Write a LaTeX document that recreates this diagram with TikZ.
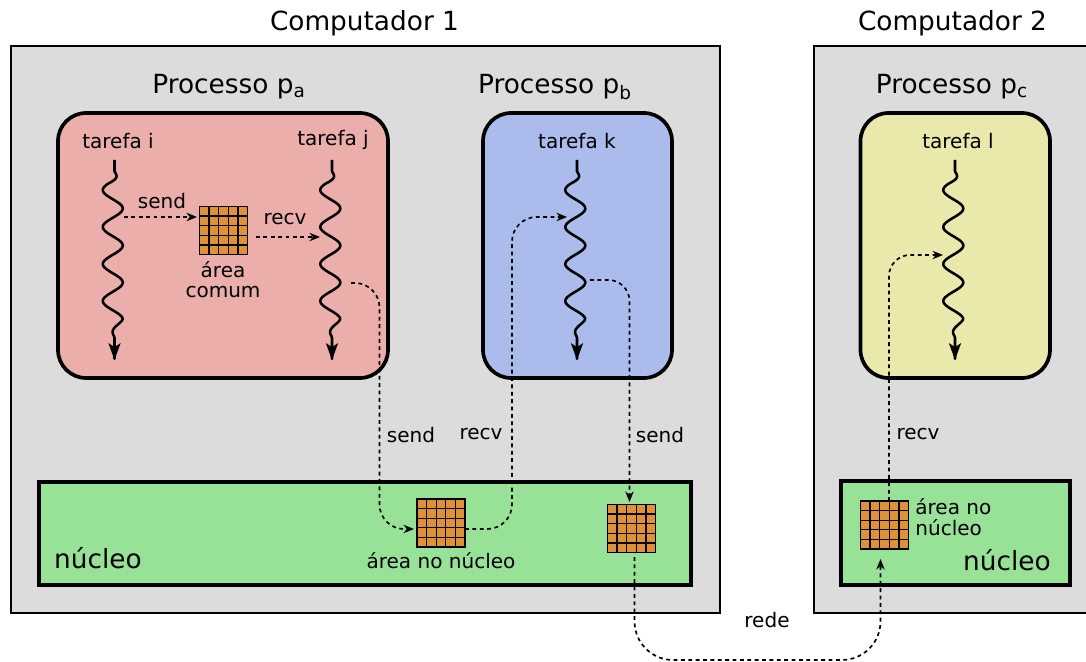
\documentclass[tikz,border=0pt]{standalone}
\usepackage{fontspec}
\setmainfont{DejaVu Sans}
\usetikzlibrary{calc}
\usetikzlibrary{arrows.meta}

\definecolor{compgray}{HTML}{DCDCDC}
\definecolor{procred}{HTML}{EBAEAB}
\definecolor{procblue}{HTML}{ABBBEB}
\definecolor{procyellow}{HTML}{EBE8AB}
\definecolor{kernelgreen}{HTML}{98E298}
\definecolor{gridorange}{HTML}{DE9136}

\tikzset{
  declare function={
    env(\t)=max(0,min(1,(\t-11.5)/12,(177-\t)/18));
    wave(\t)=env(\t)*(-10*sin(9.73*(\t-20.75))-1.7);
  },
  computer/.style={draw,fill=compgray,line width=1.6pt},
  process/.style={draw,line width=2.1pt,rounded corners=16pt},
  kernel/.style={draw,fill=kernelgreen,line width=2.2pt},
  thread/.style={line width=1.45pt,-{Stealth[length=9.5pt,width=6.8pt,inset=2.2pt]},line join=round},
  msg/.style={line width=0.95pt,dash pattern=on 2.2pt off 2pt,-{Stealth[length=6pt,width=4.8pt]}},
  memgrid/.style={draw,fill=gridorange,line width=0.75pt,minimum size=27.3pt,inner sep=0pt,outer sep=0pt},
  title/.style={font=\fontsize{15}{18}\selectfont,inner sep=0pt},
  small/.style={font=\fontsize{11.4}{11.8}\selectfont,inner sep=0pt,align=center},
  smallleft/.style={font=\fontsize{11.4}{11.8}\selectfont,inner sep=0pt,align=left},
}

\newcommand{\memarea}[2]{%
  \node[memgrid] (#1) at (#2) {};
  \foreach \k in {1,...,4} {
    \draw[line width=0.75pt] ($(#1.north west)!\k/5!(#1.north east)$) -- ($(#1.south west)!\k/5!(#1.south east)$);
    \draw[line width=0.75pt] ($(#1.north west)!\k/5!(#1.south west)$) -- ($(#1.north east)!\k/5!(#1.south east)$);
  }
}
\newcommand{\threadline}[1]{%
  \draw[thread,shift={(#1)},domain=0:200,samples=161,variable=\t] plot ({wave(\t)},{\t});
}

\begin{document}
\begin{tikzpicture}[x=0.02cm,y=-0.02cm]
\useasboundingbox (0,0) rectangle (1086,662);

% Computers
\draw[computer] (11,46) rectangle (720,613);
\draw[computer] (814,46) rectangle (1100,613);
\node[title] (comp1) at (364.5,23) {Computador 1};
\node[title] (comp2) at (952.5,23) {Computador 2};

% Processes
\draw[process,fill=procred] (58,113) rectangle (388,378);
\draw[process,fill=procblue] (483,113) rectangle (672,378);
\draw[process,fill=procyellow] (860.5,113) rectangle (1050,378);
\node[title] (proca) at (229,87) {Processo p\textsubscript{a}};
\node[title] (procb) at (555,87) {Processo p\textsubscript{b}};
\node[title] (procc) at (952,87) {Processo p\textsubscript{c}};

% Kernels
\draw[kernel] (39,482) rectangle (691,585);
\draw[kernel] (841,481) rectangle (1070,585);
\node[title] (kernela) at (98,558) {núcleo};
\node[title] (kernelc) at (1007,560) {núcleo};

% Threads
\node[small] (tarefai) at (118,141) {tarefa i};
\node[small] (tarefaj) at (333,140) {tarefa j};
\node[small] (tarefak) at (577,141) {tarefa k};
\node[small] (tarefal) at (958,141) {tarefa l};
\coordinate (ti) at (114.5,160);
\coordinate (tj) at (332,160);
\coordinate (tk) at (577,160);
\coordinate (tl) at (955,160);
\threadline{ti}
\threadline{tj}
\threadline{tk}
\threadline{tl}

% Memory areas
\memarea{areacomum}{223.5,230.5}
\memarea{areaa}{441,523}
\memarea{areab}{631.5,528.5}
\memarea{areac}{884.5,525}

% Area labels
\node[small] (lblcomum) at (223,279.5) {área\\comum};
\node[small] (lblareaa) at (441,561) {área no núcleo};
\node[smallleft,anchor=west] (lblareac) at (915,517) {área no\\núcleo};

% Messages
\coordinate (sendi) at (124,217);
\coordinate (ini) at (197,217);
\coordinate (recvj) at (256,237);
\coordinate (inj) at (320,237);
\draw[msg] (sendi) -- (ini);
\draw[msg] (recvj) -- (inj);
\node[small] (lblsendi) at (162,201) {send};
\node[small] (lblrecvj) at (285,219) {recv};

\coordinate (sendj) at (351,283);
\coordinate (turnj) at (379.5,529);
\coordinate (ina) at (414,529);
\draw[msg,rounded corners=14pt] (sendj) -| (turnj) -- (ina);
\node[small] (lblsendj) at (411,435) {send};

\coordinate (outa) at (465,529);
\coordinate (turnk) at (512,217);
\coordinate (ink) at (567,217);
\draw[msg,rounded corners=14pt] (outa) -| (turnk) -- (ink);
\node[small] (lblrecvk) at (481,434) {recv};

\coordinate (sendk) at (590,280);
\coordinate (inb) at (629.5,502);
\draw[msg,rounded corners=12pt] (sendk) -| (inb);
\node[small] (lblsendk) at (660,435) {send};

\coordinate (outc) at (889,501);
\coordinate (turnl) at (889,255);
\coordinate (inl) at (943,255);
\draw[msg,rounded corners=12pt] (outc) -- (turnl) -- (inl);
\node[small] (lblrecvl) at (918,434) {recv};

% Network
\coordinate (outb) at (634.5,557);
\coordinate (netmid) at (757,660);
\coordinate (inc) at (880.5,559);
\draw[msg,rounded corners=22pt] (outb) |- (netmid) -| (inc);
\node[small] (lblrede) at (767,620) {rede};
\end{tikzpicture}
\end{document}
